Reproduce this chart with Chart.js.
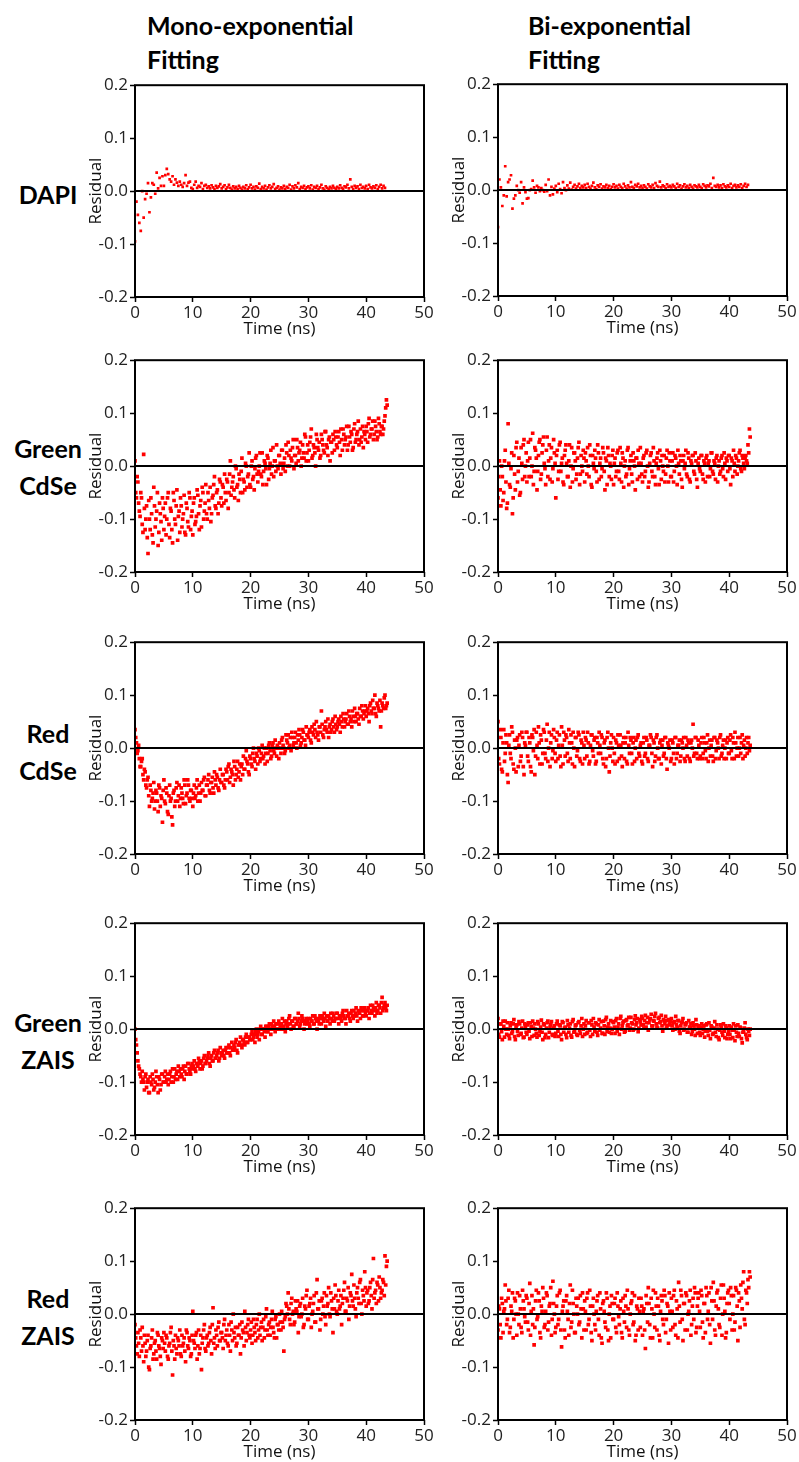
<!DOCTYPE html>
<html>
<head>
<meta charset="utf-8">
<script src="https://cdn.jsdelivr.net/npm/chart.js@4.4.1/dist/chart.umd.min.js"></script>
<style>
  body { margin: 0; background: #fff; }
  #page { position: relative; width: 799px; height: 1462px; overflow: hidden; }
  .head, .row { position: absolute; font-family: Lato, sans-serif; font-weight: 700; font-size: 25px; color: #000; }
  .head { line-height: 34px; }
  .row { left: 0; width: 96px; text-align: center; line-height: 37px; }
  canvas { position: absolute; }
</style>
</head>
<body>
<div id="page">
  <div class="head" style="left:147px; top:8px;">Mono-exponential<br>Fitting</div>
  <div class="head" style="left:528px; top:8px;">Bi-exponential<br>Fitting</div>
  <div class="row" style="top:176px;">DAPI</div>
  <div class="row" style="top:430px;">Green<br>CdSe</div>
  <div class="row" style="top:715px;">Red<br>CdSe</div>
  <div class="row" style="top:1004px;">Green<br>ZAIS</div>
  <div class="row" style="top:1280px;">Red<br>ZAIS</div>
</div>
<script>
// residuals sampled every 0.25 ns; the "B" arrays are the channels in between (offset 0.125 ns)
const timeStep = 0.25;
const xTicks = [0, 10, 20, 30, 40, 50];
const yTicks = [-0.2, -0.1, 0.0, 0.1, 0.2];

const dapiMono = [
  -0.095, -0.02, -0.045, -0.06, -0.075, 0.0, -0.05, -0.015, -0.005, 0.015, -0.04, -0.012, 0.015, 0.012, -0.005, 0.035, 0.005, 0.025, 0.01, 0.028,
  0.01, 0.03, 0.042, 0.032, 0.022, 0.018, 0.028, 0.012, 0.022, 0.016, 0.01, 0.018, 0.012, 0.008, 0.015, 0.03, 0.01, 0.016, 0.018, 0.006,
  0.004, 0.012, 0.018, 0.006, 0.01, 0.008, 0.015, 0.004, 0.01, 0.012, 0.006, 0.009, 0.005, 0.011, 0.007, 0.004, 0.01, 0.006, 0.009, 0.013,
  0.005, 0.008, 0.011, 0.004, 0.007, 0.012, 0.006, 0.003, 0.009, 0.005, 0.008, 0.004, 0.01, 0.006, 0.003, 0.008, 0.005, 0.011, 0.004, 0.007,
  0.012, 0.005, 0.008, 0.003, 0.009, 0.006, 0.014, 0.004, 0.008, 0.005, 0.01, 0.003, 0.007, 0.011, 0.005, 0.008, 0.013, 0.004, 0.006, 0.009,
  0.003, 0.007, 0.005, 0.01, 0.004, 0.008, 0.006, 0.012, 0.003, 0.009, 0.005, 0.011, 0.007, 0.015, 0.004, 0.008, 0.006, 0.01, 0.004, 0.007,
  0.009, 0.005, 0.011, 0.003, 0.008, 0.006, 0.01, 0.004, 0.007, 0.012, 0.005, 0.003, 0.009, 0.006, 0.004, 0.008, 0.005, 0.01, 0.006, 0.004,
  0.008, 0.005, 0.011, 0.006, 0.004, 0.009, 0.007, 0.012, 0.005, 0.022, 0.008, 0.004, 0.01, 0.006, 0.009, 0.004, 0.012, 0.006, 0.008, 0.005,
  0.01, 0.004, 0.012, 0.007, 0.005, 0.009, 0.006, 0.011, 0.004, 0.008, 0.012, 0.005, 0.01, 0.006
];
const dapiBi = [
  -0.07, 0.02, 0.005, -0.03, -0.01, 0.045, -0.012, 0.015, 0.02, 0.028, -0.035, -0.016, -0.01, 0.008, 0.0, -0.005, 0.015, -0.025, 0.005, -0.004,
  -0.016, -0.015, 0.0, 0.002, 0.018, 0.005, -0.005, 0.008, 0.005, -0.002, 0.004, 0.0, -0.003, 0.01, -0.002, 0.02, -0.01, 0.006, -0.008, 0.003,
  0.008, -0.004, 0.012, 0.002, -0.006, 0.015, 0.004, 0.0, 0.009, 0.003, 0.014, 0.001, 0.006, 0.01, 0.003, 0.007, 0.012, 0.004, 0.008, 0.005,
  0.01, 0.004, 0.012, 0.006, 0.003, 0.008, 0.014, 0.005, 0.002, 0.009, 0.006, 0.011, 0.003, 0.007, 0.005, 0.01, 0.004, 0.008, 0.002, 0.006,
  0.011, 0.005, 0.008, 0.003, 0.01, 0.006, 0.004, 0.012, 0.007, 0.003, 0.009, 0.005, 0.015, 0.006, 0.004, 0.01, 0.007, 0.012, 0.005, 0.008,
  0.004, 0.009, 0.006, 0.003, 0.011, 0.007, 0.005, 0.01, 0.004, 0.013, 0.008, 0.006, 0.016, 0.005, 0.009, 0.007, 0.004, 0.011, 0.006, 0.008,
  0.005, 0.01, 0.007, 0.004, 0.012, 0.006, 0.009, 0.003, 0.007, 0.011, 0.005, 0.008, 0.004, 0.01, 0.006, 0.003, 0.009, 0.007, 0.005, 0.01,
  0.006, 0.004, 0.011, 0.008, 0.005, 0.009, 0.007, 0.012, 0.004, 0.023, 0.008, 0.006, 0.01, 0.005, 0.009, 0.004, 0.011, 0.007, 0.005, 0.009,
  0.006, 0.012, 0.004, 0.008, 0.01, 0.005, 0.009, 0.006, 0.011, 0.004, 0.008, 0.012, 0.006, 0.01
];
const greenCdseMono = [
  0.01, -0.06, -0.03, -0.085, -0.05, -0.11, 0.022, -0.12, -0.075, -0.165, -0.1, -0.06, -0.13, -0.04, -0.115, -0.085, -0.15, -0.07, -0.105, -0.06,
  -0.12, -0.07, -0.1, -0.05, -0.135, -0.085, -0.145, -0.065, -0.11, -0.045, -0.095, -0.125, -0.075, -0.1, -0.055, -0.13, -0.08, -0.115, -0.06, -0.095,
  -0.13, -0.06, -0.105, -0.045, -0.09, -0.075, -0.115, -0.05, -0.085, -0.035, -0.1, -0.065, -0.04, -0.09, -0.055, -0.02, -0.08, -0.045, -0.07, -0.03,
  -0.075, -0.04, -0.015, -0.065, -0.03, -0.05, 0.01, -0.04, -0.02, -0.06, -0.005, -0.035, -0.015, -0.05, 0.015, -0.025, -0.045, 0.0, -0.02, 0.025,
  -0.04, 0.01, -0.02, -0.005, 0.02, -0.03, 0.0, -0.015, 0.025, -0.01, 0.005, -0.035, 0.015, -0.005, 0.03, 0.0, -0.02, 0.01, 0.04, -0.005,
  0.02, -0.015, 0.03, 0.005, -0.01, 0.025, 0.045, 0.0, 0.015, 0.035, -0.005, 0.02, 0.05, 0.01, 0.03, 0.0, 0.04, 0.015, 0.055, 0.025,
  0.01, 0.045, 0.07, 0.02, 0.035, 0.0, 0.05, 0.03, 0.015, 0.06, 0.04, 0.025, 0.065, 0.035, 0.05, 0.01, 0.045, 0.06, 0.03, 0.055,
  0.035, 0.065, 0.02, 0.05, 0.07, 0.04, 0.055, 0.03, 0.075, 0.045, 0.06, 0.035, 0.08, 0.05, 0.065, 0.04, 0.07, 0.055, 0.035, 0.06,
  0.075, 0.045, 0.09, 0.06, 0.07, 0.05, 0.085, 0.065, 0.055, 0.08, 0.06, 0.075, 0.07, 0.095, 0.125
];
const greenCdseMonoB = [
  -0.05, -0.02, -0.07, -0.095, -0.06, -0.125, -0.08, -0.1, -0.135, -0.065, -0.12, -0.09, -0.145, -0.075, -0.1, -0.05, -0.125, -0.09, -0.14, -0.08,
  -0.095, -0.13, -0.06, -0.11, -0.08, -0.12, -0.05, -0.1, -0.075, -0.14, -0.085, -0.06, -0.115, -0.09, -0.125, -0.07, -0.105, -0.05, -0.12, -0.085,
  -0.07, -0.11, -0.095, -0.055, -0.12, -0.065, -0.04, -0.1, -0.07, -0.09, -0.05, -0.08, -0.105, -0.06, -0.035, -0.075, -0.05, -0.09, -0.025, -0.06,
  -0.035, -0.07, -0.05, -0.025, -0.08, -0.015, -0.055, -0.03, -0.045, 0.0, -0.04, -0.065, -0.025, -0.01, -0.05, -0.03, 0.005, -0.04, -0.015, -0.035,
  0.0, -0.025, -0.045, 0.015, -0.015, -0.01, 0.025, -0.02, -0.035, 0.01, -0.005, 0.02, -0.025, 0.005, -0.015, 0.035, 0.01, -0.01, 0.0, 0.02,
  0.005, 0.03, -0.005, 0.015, 0.04, 0.0, 0.02, 0.03, 0.01, 0.05, 0.02, 0.005, 0.035, 0.025, 0.045, 0.015, 0.025, 0.06, 0.01, 0.04,
  0.03, 0.055, 0.015, 0.04, 0.025, 0.06, 0.035, 0.045, 0.02, 0.05, 0.03, 0.065, 0.04, 0.02, 0.055, 0.045, 0.025, 0.05, 0.065, 0.04,
  0.055, 0.045, 0.07, 0.03, 0.06, 0.05, 0.075, 0.04, 0.055, 0.065, 0.03, 0.07, 0.045, 0.06, 0.085, 0.05, 0.045, 0.075, 0.065, 0.05,
  0.065, 0.08, 0.055, 0.07, 0.085, 0.06, 0.075, 0.05, 0.09, 0.065, 0.075, 0.06, 0.085, 0.11, 0.115
];
const greenCdseBi = [
  -0.06, 0.01, -0.075, -0.02, -0.05, 0.03, -0.08, 0.08, -0.035, -0.005, -0.09, 0.02, -0.045, 0.045, -0.01, -0.055, 0.035, -0.025, 0.05, 0.0,
  -0.03, 0.045, 0.015, -0.02, 0.062, -0.01, 0.03, -0.045, 0.02, 0.05, -0.015, 0.04, 0.005, -0.035, 0.055, 0.01, -0.025, 0.035, -0.005, 0.025,
  -0.06, 0.03, -0.01, 0.045, 0.005, -0.03, 0.02, 0.04, -0.02, 0.01, -0.04, 0.035, -0.005, 0.025, -0.025, 0.015, 0.045, -0.015, 0.0, 0.03,
  -0.03, 0.01, 0.035, -0.02, 0.02, -0.04, 0.005, 0.03, -0.01, 0.04, -0.025, 0.015, -0.005, 0.025, -0.045, 0.01, 0.035, -0.02, 0.0, 0.02,
  -0.035, 0.015, -0.01, 0.03, -0.025, 0.005, 0.025, -0.04, 0.01, -0.015, 0.035, -0.005, 0.02, -0.03, 0.01, -0.045, 0.015, 0.03, -0.02, 0.005,
  -0.03, 0.02, -0.01, 0.03, -0.04, 0.005, 0.025, -0.02, 0.01, -0.035, 0.015, -0.005, 0.03, -0.025, 0.0, 0.02, -0.015, 0.03, -0.03, 0.01,
  -0.02, 0.025, -0.01, 0.015, -0.035, 0.005, 0.02, -0.025, 0.01, -0.005, 0.03, -0.02, 0.015, -0.03, 0.005, 0.02, -0.015, 0.01, -0.04, 0.015,
  -0.01, 0.02, -0.025, 0.005, 0.015, -0.02, 0.01, -0.005, 0.025, -0.015, 0.005, 0.015, -0.03, 0.01, -0.01, 0.02, -0.02, 0.005, 0.015, -0.01,
  0.02, -0.035, 0.01, 0.03, -0.01, 0.015, 0.0, 0.025, -0.005, 0.02, 0.005, 0.015, 0.01, 0.04, 0.07
];
const greenCdseBiB = [
  -0.02, -0.045, 0.0, -0.065, 0.01, -0.03, -0.07, 0.005, -0.04, 0.025, -0.06, -0.015, 0.035, -0.03, 0.015, -0.05, 0.005, 0.04, -0.02, 0.025,
  0.01, -0.02, 0.05, 0.0, -0.035, 0.035, 0.015, -0.01, 0.045, -0.025, 0.025, 0.055, -0.005, 0.03, -0.02, 0.04, 0.015, -0.03, 0.05, 0.005,
  0.02, -0.025, 0.04, -0.01, 0.015, -0.035, 0.03, 0.005, -0.02, 0.04, 0.0, -0.03, 0.025, 0.01, -0.015, 0.035, -0.035, 0.02, -0.01, 0.015,
  0.025, -0.015, 0.0, 0.04, -0.035, 0.02, -0.005, 0.015, -0.03, 0.025, 0.005, -0.02, 0.035, -0.01, 0.015, -0.035, 0.02, 0.005, -0.025, 0.03,
  0.005, -0.02, 0.025, -0.01, 0.035, -0.03, 0.015, 0.0, -0.02, 0.03, -0.035, 0.01, -0.015, 0.025, 0.0, 0.015, -0.025, 0.005, 0.035, -0.015,
  0.015, -0.02, 0.025, 0.0, -0.03, 0.02, -0.01, 0.035, -0.02, 0.005, 0.025, -0.035, 0.01, 0.02, -0.01, -0.03, 0.015, 0.0, 0.025, -0.02,
  0.01, -0.03, 0.02, 0.0, 0.03, -0.015, 0.01, -0.04, 0.02, 0.005, -0.015, 0.025, -0.025, 0.01, 0.02, -0.01, 0.025, -0.025, 0.005, -0.005,
  0.02, -0.015, 0.01, -0.03, 0.02, 0.005, -0.02, 0.025, -0.01, 0.01, -0.025, 0.02, 0.0, -0.015, 0.015, -0.005, 0.025, -0.025, 0.01, 0.02,
  -0.005, 0.015, -0.02, 0.005, 0.02, -0.015, 0.01, 0.03, -0.01, 0.015, -0.005, 0.02, 0.005, 0.025, 0.055
];
const redCdseMono = [
  0.035, 0.01, -0.005, -0.02, -0.035, -0.02, -0.06, -0.045, -0.075, -0.055, -0.11, -0.08, -0.095, -0.065, -0.1, -0.085, -0.12, -0.075, -0.09, -0.14,
  -0.06, -0.105, -0.085, -0.125, -0.07, -0.095, -0.145, -0.08, -0.1, -0.065, -0.09, -0.11, -0.075, -0.095, -0.06, -0.105, -0.085, -0.07, -0.1, -0.08,
  -0.11, -0.07, -0.09, -0.06, -0.085, -0.1, -0.065, -0.08, -0.055, -0.09, -0.07, -0.05, -0.085, -0.065, -0.075, -0.045, -0.07, -0.055, -0.08, -0.04,
  -0.065, -0.05, -0.075, -0.04, -0.06, -0.03, -0.055, -0.045, -0.07, -0.035, -0.05, -0.025, -0.045, -0.06, -0.03, -0.015, -0.04, -0.005, -0.03, -0.05,
  -0.02, -0.035, 0.0, -0.025, -0.01, -0.03, -0.005, -0.02, 0.005, -0.015, -0.03, 0.0, -0.01, 0.01, -0.02, 0.005, -0.005, 0.015, -0.015, 0.0,
  0.01, -0.01, 0.02, 0.0, -0.005, 0.015, 0.025, 0.005, -0.005, 0.02, 0.01, 0.03, 0.0, 0.015, 0.025, 0.01, 0.035, 0.015, 0.005, 0.025,
  0.02, 0.035, 0.01, 0.03, 0.045, 0.02, 0.03, 0.015, 0.04, 0.07, 0.025, 0.035, 0.05, 0.03, 0.02, 0.045, 0.035, 0.055, 0.03, 0.045,
  0.04, 0.055, 0.03, 0.05, 0.065, 0.04, 0.055, 0.045, 0.07, 0.05, 0.04, 0.06, 0.075, 0.05, 0.065, 0.045, 0.06, 0.08, 0.055, 0.07,
  0.06, 0.075, 0.05, 0.085, 0.065, 0.075, 0.1, 0.06, 0.08, 0.07, 0.04, 0.085, 0.075, 0.1, 0.08
];
const redCdseMonoB = [
  0.02, -0.01, 0.005, -0.035, -0.025, -0.05, -0.04, -0.07, -0.06, -0.09, -0.07, -0.1, -0.085, -0.115, -0.08, -0.1, -0.07, -0.11, -0.095, -0.08,
  -0.1, -0.075, -0.12, -0.09, -0.1, -0.13, -0.085, -0.11, -0.075, -0.1, -0.07, -0.095, -0.085, -0.105, -0.07, -0.09, -0.06, -0.095, -0.08, -0.095,
  -0.085, -0.095, -0.075, -0.1, -0.07, -0.085, -0.08, -0.06, -0.09, -0.07, -0.06, -0.08, -0.065, -0.055, -0.085, -0.06, -0.05, -0.075, -0.06, -0.065,
  -0.05, -0.07, -0.06, -0.045, -0.035, -0.065, -0.04, -0.05, -0.025, -0.06, -0.04, -0.055, -0.03, -0.035, -0.05, -0.04, -0.02, -0.025, -0.045, -0.015,
  -0.03, -0.01, -0.02, -0.04, -0.015, 0.0, -0.025, -0.01, -0.02, 0.0, -0.01, -0.025, 0.005, -0.005, -0.015, 0.01, -0.01, 0.0, 0.005, -0.02,
  0.0, 0.015, 0.005, -0.01, 0.025, 0.01, 0.0, 0.02, 0.03, 0.005, 0.02, 0.01, 0.025, 0.035, 0.005, 0.02, 0.03, 0.015, 0.04, 0.025,
  0.03, 0.015, 0.04, 0.025, 0.035, 0.05, 0.025, 0.04, 0.03, 0.045, 0.02, 0.04, 0.035, 0.055, 0.04, 0.03, 0.05, 0.04, 0.06, 0.035,
  0.05, 0.045, 0.06, 0.04, 0.055, 0.05, 0.065, 0.045, 0.06, 0.055, 0.07, 0.05, 0.06, 0.065, 0.055, 0.075, 0.06, 0.07, 0.065, 0.08,
  0.07, 0.065, 0.08, 0.07, 0.09, 0.075, 0.065, 0.085, 0.075, 0.09, 0.07, 0.08, 0.095, 0.075, 0.085
];
const redCdseBi = [
  0.05, -0.03, 0.02, -0.045, 0.035, -0.01, 0.01, -0.065, 0.025, -0.02, 0.03, -0.04, 0.0, 0.015, -0.035, 0.025, -0.015, 0.02, -0.05, 0.005,
  0.03, -0.025, 0.01, -0.045, 0.02, 0.035, -0.015, 0.005, 0.04, -0.03, 0.015, -0.01, 0.03, -0.02, 0.045, 0.0, -0.035, 0.025, -0.005, 0.02,
  -0.025, 0.03, 0.005, -0.015, 0.04, -0.03, 0.015, 0.025, -0.01, 0.035, -0.02, 0.01, 0.03, -0.035, 0.02, -0.005, 0.025, -0.025, 0.01, 0.03,
  -0.02, 0.015, 0.03, -0.03, 0.005, 0.025, -0.015, 0.02, -0.025, 0.01, 0.03, -0.01, 0.02, -0.03, 0.015, -0.02, 0.03, -0.045, 0.01, 0.0,
  0.02, -0.03, 0.01, 0.025, -0.02, 0.005, -0.035, 0.02, 0.01, -0.025, 0.03, -0.01, 0.015, -0.03, 0.02, 0.0, -0.02, 0.025, -0.015, 0.01,
  -0.03, 0.02, -0.01, 0.015, -0.025, 0.005, 0.02, -0.035, 0.01, -0.015, 0.025, -0.02, 0.01, -0.03, 0.015, -0.01, 0.02, -0.04, 0.005, 0.015,
  -0.02, 0.01, -0.03, 0.02, -0.01, 0.005, -0.025, 0.015, 0.0, -0.02, 0.02, -0.015, 0.01, -0.025, 0.015, 0.045, -0.01, 0.02, -0.02, 0.005,
  -0.015, 0.02, -0.01, 0.01, -0.02, 0.025, 0.0, -0.015, 0.015, -0.025, 0.02, -0.005, 0.01, -0.02, 0.025, -0.01, 0.015, 0.0, -0.02, 0.02,
  -0.01, 0.025, -0.02, 0.01, 0.03, -0.015, 0.02, 0.0, -0.01, 0.025, 0.005, -0.015, 0.02, 0.01, -0.005
];
const redCdseBiB = [
  -0.02, 0.035, -0.04, 0.01, -0.025, 0.025, -0.05, 0.005, -0.01, 0.04, -0.03, 0.015, -0.045, 0.02, 0.005, -0.025, 0.03, -0.035, 0.01, 0.03,
  -0.015, 0.02, -0.035, 0.025, -0.005, -0.05, 0.03, -0.02, 0.01, 0.025, -0.03, 0.035, -0.01, 0.015, -0.025, 0.03, 0.01, -0.02, 0.035, -0.01,
  0.015, -0.02, 0.025, -0.035, 0.005, 0.03, -0.015, 0.02, -0.025, 0.01, 0.025, -0.03, 0.0, 0.02, -0.015, 0.03, -0.02, 0.015, -0.03, 0.005,
  0.02, -0.015, 0.01, -0.025, 0.025, -0.005, 0.015, -0.03, 0.02, -0.01, 0.005, 0.025, -0.02, 0.01, -0.035, 0.02, 0.0, -0.015, 0.025, -0.025,
  -0.01, 0.015, -0.025, 0.005, 0.025, -0.015, 0.01, -0.02, 0.02, -0.03, 0.005, 0.02, -0.01, 0.01, -0.025, 0.015, 0.02, -0.01, 0.005, -0.025,
  0.01, -0.015, 0.02, -0.02, 0.005, 0.025, -0.01, 0.015, -0.025, 0.02, 0.0, -0.02, 0.015, 0.005, -0.015, 0.02, -0.02, 0.01, 0.0, -0.025,
  0.015, -0.01, 0.02, -0.02, 0.005, 0.015, -0.015, 0.01, 0.02, -0.025, 0.005, 0.015, -0.02, 0.01, 0.0, -0.015, 0.02, -0.01, 0.015, -0.02,
  0.01, -0.02, 0.02, -0.005, 0.01, -0.025, 0.015, 0.005, -0.015, 0.02, -0.02, 0.015, 0.0, 0.02, -0.015, 0.005, -0.02, 0.015, 0.01, -0.01,
  0.015, -0.005, 0.02, -0.02, 0.01, 0.0, -0.015, 0.02, 0.01, -0.02, 0.015, 0.0, -0.01, 0.02, 0.005
];
const greenZaisMono = [
  0.0, -0.03, -0.06, -0.075, -0.09, -0.08, -0.1, -0.09, -0.11, -0.095, -0.12, -0.1, -0.085, -0.115, -0.1, -0.09, -0.12, -0.095, -0.105, -0.085,
  -0.1, -0.08, -0.095, -0.105, -0.085, -0.1, -0.075, -0.09, -0.095, -0.08, -0.07, -0.09, -0.085, -0.075, -0.095, -0.07, -0.085, -0.065, -0.08, -0.07,
  -0.075, -0.06, -0.08, -0.065, -0.055, -0.075, -0.06, -0.07, -0.05, -0.065, -0.055, -0.045, -0.07, -0.05, -0.06, -0.04, -0.055, -0.045, -0.06, -0.035,
  -0.05, -0.04, -0.055, -0.035, -0.045, -0.03, -0.05, -0.025, -0.04, -0.035, -0.02, -0.045, -0.03, -0.015, -0.035, -0.02, -0.03, -0.01, -0.025, -0.015,
  -0.02, -0.005, -0.015, -0.025, 0.0, -0.01, -0.02, 0.005, -0.01, 0.0, -0.015, 0.005, -0.005, 0.01, -0.01, 0.005, 0.015, -0.005, 0.01, 0.0,
  0.01, 0.0, 0.02, 0.005, -0.005, 0.015, 0.01, 0.025, 0.0, 0.015, 0.005, 0.02, 0.01, 0.03, 0.005, 0.015, 0.02, 0.0, 0.015, 0.01,
  0.02, 0.005, 0.015, 0.025, 0.01, 0.02, 0.0, 0.015, 0.025, 0.01, 0.02, 0.03, 0.005, 0.015, 0.025, 0.01, 0.02, 0.03, 0.015, 0.02,
  0.03, 0.01, 0.025, 0.015, 0.035, 0.02, 0.01, 0.025, 0.03, 0.015, 0.035, 0.02, 0.025, 0.04, 0.015, 0.03, 0.02, 0.035, 0.025, 0.04,
  0.025, 0.035, 0.02, 0.045, 0.03, 0.04, 0.025, 0.05, 0.035, 0.045, 0.03, 0.06, 0.04, 0.05, 0.035
];
const greenZaisMonoB = [
  -0.02, -0.045, -0.07, -0.085, -0.1, -0.095, -0.115, -0.085, -0.1, -0.12, -0.09, -0.105, -0.095, -0.11, -0.08, -0.105, -0.09, -0.115, -0.085, -0.1,
  -0.09, -0.1, -0.085, -0.095, -0.08, -0.09, -0.1, -0.075, -0.085, -0.095, -0.08, -0.075, -0.09, -0.07, -0.08, -0.085, -0.065, -0.075, -0.085, -0.065,
  -0.07, -0.075, -0.065, -0.07, -0.06, -0.065, -0.075, -0.055, -0.065, -0.06, -0.05, -0.065, -0.055, -0.06, -0.045, -0.055, -0.05, -0.04, -0.055, -0.045,
  -0.045, -0.05, -0.04, -0.045, -0.035, -0.045, -0.035, -0.04, -0.03, -0.025, -0.04, -0.03, -0.025, -0.03, -0.02, -0.025, -0.015, -0.025, -0.015, -0.02,
  -0.01, -0.02, -0.01, -0.005, -0.015, -0.005, 0.0, -0.01, 0.0, -0.005, 0.005, -0.005, 0.005, 0.0, 0.01, 0.0, 0.005, 0.01, 0.0, 0.015,
  0.005, 0.01, 0.0, 0.015, 0.01, 0.005, 0.02, 0.01, 0.015, 0.005, 0.02, 0.01, 0.015, 0.02, 0.01, 0.025, 0.015, 0.01, 0.02, 0.015,
  0.01, 0.02, 0.015, 0.01, 0.025, 0.015, 0.02, 0.01, 0.02, 0.025, 0.015, 0.02, 0.025, 0.015, 0.02, 0.03, 0.015, 0.025, 0.02, 0.03,
  0.02, 0.025, 0.02, 0.03, 0.025, 0.02, 0.035, 0.025, 0.02, 0.03, 0.025, 0.035, 0.03, 0.025, 0.035, 0.03, 0.04, 0.025, 0.035, 0.03,
  0.035, 0.04, 0.03, 0.035, 0.045, 0.035, 0.04, 0.03, 0.045, 0.04, 0.05, 0.035, 0.045, 0.04, 0.045
];
const greenZaisBi = [
  0.02, -0.015, 0.01, -0.02, 0.005, 0.015, -0.01, 0.0, -0.018, 0.012, -0.005, 0.018, -0.02, 0.008, -0.012, 0.01, -0.008, 0.015, -0.015, 0.005,
  -0.01, 0.012, -0.018, 0.005, 0.015, -0.012, 0.0, -0.015, 0.01, -0.005, 0.017, -0.02, 0.008, -0.01, 0.012, -0.016, 0.004, 0.014, -0.012, 0.006,
  -0.008, 0.015, -0.014, 0.006, -0.02, 0.012, 0.002, -0.01, 0.016, -0.006, 0.01, -0.015, 0.018, -0.004, 0.008, -0.012, 0.014, -0.008, 0.02, 0.0,
  -0.01, 0.016, -0.006, 0.012, -0.014, 0.008, 0.02, -0.004, 0.01, -0.012, 0.018, 0.002, -0.008, 0.015, -0.01, 0.022, 0.004, -0.006, 0.016, 0.0,
  0.012, -0.008, 0.02, 0.004, -0.01, 0.024, 0.006, 0.015, -0.004, 0.018, 0.008, -0.002, 0.022, 0.01, 0.0, 0.025, 0.012, -0.005, 0.018, 0.008,
  0.02, 0.002, 0.026, 0.012, -0.002, 0.018, 0.028, 0.006, 0.015, 0.03, 0.004, 0.02, 0.012, 0.026, -0.004, 0.016, 0.024, 0.006, 0.018, 0.01,
  0.02, -0.002, 0.014, 0.024, 0.004, 0.016, -0.008, 0.012, 0.02, 0.0, 0.01, -0.006, 0.016, 0.004, -0.01, 0.012, 0.0, 0.018, -0.008, 0.006,
  -0.012, 0.01, 0.0, -0.015, 0.008, -0.004, 0.012, -0.018, 0.004, -0.008, 0.014, -0.014, 0.0, -0.02, 0.008, -0.006, 0.01, -0.016, 0.002, -0.01,
  0.006, -0.018, -0.002, 0.01, -0.022, -0.006, 0.008, -0.014, 0.002, -0.026, -0.004, 0.012, -0.016, 0.0, -0.012
];
const greenZaisBiB = [
  -0.01, 0.01, -0.005, 0.015, -0.015, 0.0, 0.012, -0.012, 0.006, -0.008, 0.01, -0.014, 0.004, -0.004, 0.014, -0.01, 0.002, -0.016, 0.01, -0.006,
  0.008, -0.004, 0.012, -0.014, 0.002, 0.01, -0.008, 0.014, -0.012, 0.004, -0.006, 0.01, -0.016, 0.002, 0.015, -0.006, 0.008, -0.01, 0.002, -0.014,
  0.01, -0.004, 0.008, -0.01, 0.014, -0.006, 0.004, -0.016, 0.008, 0.002, -0.012, 0.014, -0.006, 0.006, -0.01, 0.012, -0.002, 0.006, -0.014, 0.01,
  0.006, -0.008, 0.012, -0.002, 0.016, -0.01, 0.004, 0.012, -0.006, 0.008, -0.002, 0.014, -0.008, 0.006, 0.018, -0.004, 0.01, 0.002, -0.008, 0.014,
  0.004, 0.016, -0.004, 0.01, 0.02, 0.0, 0.012, -0.006, 0.016, 0.006, 0.022, 0.002, 0.012, -0.002, 0.018, 0.008, 0.02, 0.002, 0.014, 0.024,
  0.008, 0.016, 0.004, 0.022, 0.012, 0.02, 0.006, 0.016, 0.024, 0.01, 0.002, 0.022, 0.014, 0.006, 0.018, 0.01, 0.002, 0.016, 0.008, 0.014,
  0.006, 0.012, 0.0, 0.008, 0.016, -0.004, 0.006, 0.014, -0.002, 0.008, 0.012, -0.006, 0.004, 0.01, -0.004, 0.006, -0.012, 0.008, 0.002, -0.006,
  0.004, -0.008, 0.006, -0.004, 0.01, -0.012, -0.002, 0.006, -0.01, 0.002, -0.006, 0.008, -0.016, -0.002, 0.004, -0.012, -0.004, 0.006, -0.018, -0.004,
  -0.01, 0.004, -0.016, -0.002, 0.006, -0.014, -0.008, 0.004, -0.018, -0.006, 0.002, -0.01, -0.02, -0.004, 0.0
];
const redZaisMono = [
  -0.02, -0.06, -0.035, -0.08, -0.045, -0.025, -0.09, -0.055, -0.07, -0.04, -0.105, -0.06, -0.03, -0.075, -0.05, -0.085, -0.04, -0.065, -0.095, -0.05,
  -0.035, -0.07, -0.045, -0.085, -0.055, -0.025, -0.115, -0.06, -0.04, -0.075, -0.05, -0.03, -0.08, -0.06, -0.045, -0.09, -0.035, -0.065, -0.05, -0.075,
  0.005, -0.055, -0.04, -0.085, -0.03, -0.065, -0.105, -0.045, -0.02, -0.07, -0.04, -0.055, -0.025, -0.075, 0.012, -0.045, -0.03, -0.06, -0.015, -0.05,
  -0.035, -0.065, -0.01, -0.04, -0.055, -0.02, -0.07, -0.03, 0.0, -0.045, -0.06, -0.025, -0.04, -0.075, -0.015, -0.035, 0.005, -0.05, -0.02, -0.04,
  -0.03, -0.055, -0.01, -0.035, -0.02, -0.045, 0.0, -0.025, -0.05, -0.01, -0.03, 0.01, -0.04, -0.015, -0.025, 0.005, -0.035, -0.01, -0.045, -0.02,
  0.0, -0.03, -0.015, -0.07, -0.005, 0.015, 0.04, -0.01, 0.02, 0.0, -0.02, 0.025, 0.005, -0.035, 0.015, -0.005, 0.03, -0.02, 0.01, 0.045,
  -0.01, 0.02, -0.025, 0.005, 0.035, -0.015, 0.065, 0.01, -0.03, 0.025, 0.0, 0.04, -0.02, 0.015, 0.05, -0.005, 0.025, -0.035, 0.01, 0.035,
  0.0, 0.045, 0.015, -0.02, 0.03, 0.06, 0.005, 0.025, -0.01, 0.04, 0.075, 0.015, 0.03, -0.005, 0.05, 0.02, 0.065, 0.0, 0.035, 0.08,
  0.015, 0.045, 0.025, 0.06, 0.01, 0.105, 0.04, 0.02, 0.055, 0.07, 0.03, 0.045, 0.06, 0.11, 0.09
];
const redZaisMonoB = [
  -0.045, -0.075, -0.055, -0.03, -0.07, -0.06, -0.04, -0.08, -0.05, -0.1, -0.065, -0.045, -0.085, -0.055, -0.07, -0.035, -0.06, -0.08, -0.045, -0.065,
  -0.055, -0.04, -0.08, -0.06, -0.035, -0.07, -0.05, -0.085, -0.065, -0.045, -0.06, -0.075, -0.04, -0.055, -0.07, -0.03, -0.06, -0.045, -0.08, -0.04,
  -0.05, -0.065, -0.035, -0.06, -0.075, -0.04, -0.055, -0.03, -0.065, -0.045, -0.06, -0.035, -0.05, -0.02, -0.055, -0.065, -0.04, -0.025, -0.05, -0.035,
  -0.045, -0.02, -0.05, -0.03, -0.06, -0.04, -0.015, -0.05, -0.035, -0.025, -0.055, -0.04, -0.02, -0.045, -0.03, -0.06, -0.025, -0.035, -0.01, -0.045,
  -0.015, -0.04, -0.025, -0.05, -0.01, -0.03, -0.04, -0.015, -0.025, -0.045, -0.005, -0.03, -0.02, -0.04, -0.01, -0.025, -0.045, -0.005, -0.02, -0.03,
  -0.015, 0.005, -0.025, -0.01, 0.02, 0.0, 0.01, -0.02, 0.03, 0.005, -0.015, 0.01, 0.025, -0.005, 0.02, 0.0, -0.025, 0.015, 0.035, -0.01,
  0.015, 0.03, 0.0, 0.02, -0.015, 0.04, 0.01, 0.025, -0.01, 0.03, 0.015, -0.005, 0.035, 0.02, 0.0, 0.04, 0.01, 0.03, 0.055, 0.005,
  0.025, 0.01, 0.035, 0.02, 0.045, 0.005, 0.03, 0.05, 0.015, 0.035, 0.025, 0.055, 0.01, 0.04, 0.03, 0.06, 0.02, 0.045, 0.025, 0.05,
  0.04, 0.02, 0.05, 0.035, 0.065, 0.03, 0.045, 0.06, 0.025, 0.05, 0.04, 0.065, 0.035, 0.055, 0.1
];
const redZaisBi = [
  -0.03, 0.01, -0.045, 0.02, 0.005, 0.055, -0.02, 0.03, -0.035, 0.015, 0.04, -0.01, 0.025, -0.04, 0.0, 0.035, -0.025, 0.045, 0.01, -0.015,
  0.03, -0.03, 0.058, 0.005, -0.02, -0.058, 0.025, -0.01, 0.04, -0.035, 0.015, 0.05, -0.025, 0.005, 0.035, -0.015, 0.02, -0.04, 0.062, 0.0,
  -0.025, 0.035, -0.01, 0.045, -0.062, 0.015, -0.03, 0.025, 0.005, -0.04, 0.055, -0.015, 0.02, -0.035, 0.03, 0.0, -0.02, 0.035, -0.045, 0.01,
  0.025, -0.03, 0.04, -0.01, 0.015, -0.05, 0.03, -0.02, 0.005, 0.035, -0.04, 0.01, -0.055, 0.025, -0.015, 0.04, -0.03, 0.0, -0.045, 0.02,
  -0.01, 0.03, -0.035, 0.015, -0.02, 0.025, -0.045, 0.005, 0.035, -0.025, 0.01, -0.04, 0.02, 0.04, -0.015, -0.05, 0.015, -0.03, 0.005, 0.03,
  -0.04, 0.01, -0.065, 0.02, 0.05, -0.02, 0.03, -0.045, 0.0, 0.04, -0.03, 0.015, -0.05, 0.035, -0.01, 0.045, -0.035, 0.02, -0.055, 0.005,
  0.03, -0.025, 0.045, -0.04, 0.01, 0.06, -0.015, 0.035, -0.05, 0.02, 0.04, -0.03, 0.005, 0.045, -0.02, 0.03, 0.05, -0.035, 0.015, 0.04,
  -0.025, 0.035, -0.045, 0.02, 0.05, -0.01, 0.04, -0.055, 0.025, 0.06, -0.03, 0.015, 0.045, -0.02, 0.03, -0.04, 0.055, 0.005, -0.035, 0.04,
  0.02, 0.05, -0.03, 0.035, -0.015, 0.045, -0.05, 0.025, 0.055, 0.01, 0.08, -0.02, 0.04, 0.065, 0.08
];
const redZaisBiB = [
  0.015, -0.02, 0.03, -0.035, 0.01, 0.025, -0.01, 0.045, -0.025, 0.005, -0.045, 0.03, 0.0, 0.04, -0.02, 0.01, -0.035, 0.025, -0.005, 0.035,
  -0.015, 0.02, -0.04, 0.035, 0.01, -0.025, 0.045, -0.005, 0.025, -0.045, 0.005, 0.03, -0.02, 0.04, -0.03, 0.015, 0.05, -0.01, 0.02, -0.035,
  0.015, -0.02, 0.04, -0.03, 0.005, 0.025, -0.045, 0.035, -0.01, 0.02, -0.025, 0.045, 0.0, -0.035, 0.015, 0.03, -0.015, 0.01, 0.04, -0.03,
  0.005, 0.03, -0.02, 0.045, -0.035, 0.015, 0.0, -0.03, 0.025, -0.01, 0.04, -0.045, 0.02, 0.005, -0.025, 0.03, -0.05, 0.015, 0.035, -0.01,
  0.02, -0.025, 0.04, -0.005, 0.01, -0.035, 0.03, -0.015, 0.015, 0.045, -0.03, 0.0, 0.025, -0.02, 0.035, -0.04, 0.01, 0.03, -0.025, 0.015,
  0.005, -0.03, 0.035, -0.015, 0.02, -0.045, 0.01, 0.045, -0.025, 0.015, 0.03, -0.04, 0.005, 0.025, -0.02, 0.035, -0.01, 0.015, 0.04, -0.03,
  0.005, 0.035, -0.02, 0.025, -0.045, 0.015, 0.045, -0.01, 0.02, -0.03, 0.035, 0.0, 0.025, -0.04, 0.015, -0.01, 0.04, -0.025, 0.03, 0.005,
  0.045, -0.015, 0.02, -0.035, 0.035, 0.005, -0.02, 0.05, -0.01, 0.025, -0.04, 0.04, 0.01, -0.025, 0.055, 0.0, 0.03, -0.045, 0.02, 0.045,
  -0.01, 0.035, 0.0, -0.03, 0.05, 0.015, 0.04, -0.025, 0.03, 0.06, -0.01, 0.045, 0.02, 0.05, 0.07
];

// panel layout: [series list, column, plot top]
const panels = [
  [[dapiMono], 0, 85], [[dapiBi], 1, 84],
  [[greenCdseMono, greenCdseMonoB], 0, 360], [[greenCdseBi, greenCdseBiB], 1, 360],
  [[redCdseMono, redCdseMonoB], 0, 642], [[redCdseBi, redCdseBiB], 1, 642],
  [[greenZaisMono, greenZaisMonoB], 0, 923], [[greenZaisBi, greenZaisBiB], 1, 923],
  [[redZaisMono, redZaisMonoB], 0, 1208], [[redZaisBi, redZaisBiB], 1, 1208]
];

// black frame round the plot area and the zero line, drawn over the points
const framePlugin = {
  id: 'frame',
  afterDatasetsDraw(chart) {
    const ctx = chart.ctx;
    const a = chart.chartArea;
    const y0 = chart.scales.y.getPixelForValue(0);
    ctx.save();
    ctx.strokeStyle = '#000';
    ctx.lineWidth = 2;
    ctx.beginPath();
    ctx.moveTo(a.left, y0);
    ctx.lineTo(a.right, y0);
    ctx.stroke();
    ctx.strokeRect(a.left, a.top, a.right - a.left, a.bottom - a.top);
    ctx.restore();
  }
};

const axisFont = { family: '"Open Sans", sans-serif', size: 17 };
const page = document.getElementById('page');

panels.forEach(function (p) {
  const series = p[0], col = p[1], top = p[2];
  const canvas = document.createElement('canvas');
  const left = col === 0 ? 85 : 448;
  const w = col === 0 ? 355 : 351;
  canvas.width = w;
  canvas.height = 269;
  canvas.style.left = left + 'px';
  canvas.style.top = (top - 12) + 'px';
  page.appendChild(canvas);

  let pts = [];
  series.forEach((vals, k) => {
    const shift = k * timeStep / 2;
    vals.forEach((v, i) => pts.push({ x: i * timeStep + shift, y: v }));
  });

  new Chart(canvas.getContext('2d'), {
    type: 'scatter',
    data: {
      datasets: [{
        data: pts,
        backgroundColor: '#ff0000',
        pointStyle: 'rect',
        pointRadius: series.length > 1 ? 2.6 : 1.9,
        pointBorderWidth: 0,
        pointHoverRadius: 0
      }]
    },
    options: {
      responsive: false,
      animation: false,
      events: [],
      layout: { padding: { top: 12, right: w - 50 - 289, bottom: 0, left: 0 } },
      plugins: { legend: { display: false }, tooltip: { enabled: false } },
      scales: {
        x: {
          type: 'linear', min: 0, max: 50,
          afterBuildTicks: s => { s.ticks = xTicks.map(v => ({ value: v })); },
          afterFit: s => { s.height = 45; },
          border: { display: false },
          grid: { drawOnChartArea: false, tickLength: 5, tickColor: '#000', tickWidth: 1.5 },
          ticks: { color: '#222', font: axisFont, padding: 1, maxRotation: 0 },
          title: { display: true, text: 'Time (ns)', color: '#111', font: axisFont, padding: { top: 0, bottom: 3 } }
        },
        y: {
          type: 'linear', min: -0.2, max: 0.2,
          afterBuildTicks: s => { s.ticks = yTicks.map(v => ({ value: v })); },
          afterFit: s => { s.width = 50; },
          border: { display: false },
          grid: { drawOnChartArea: false, tickLength: 5, tickColor: '#000', tickWidth: 1.5 },
          ticks: { color: '#222', font: axisFont, padding: 2, callback: v => v.toFixed(1) },
          title: { display: true, text: 'Residual', color: '#111', font: axisFont, padding: { top: 1, bottom: 0 } }
        }
      }
    },
    plugins: [framePlugin]
  });
});
</script>
</body>
</html>
